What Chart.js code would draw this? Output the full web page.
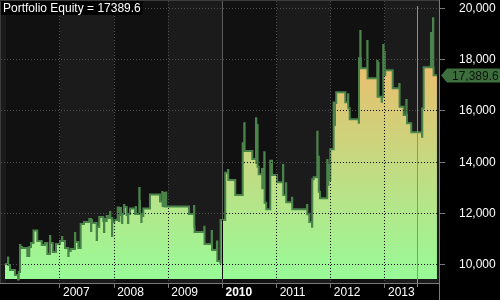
<!DOCTYPE html>
<html>
<head>
<meta charset="utf-8">
<script src="https://cdn.jsdelivr.net/npm/chart.js@4/dist/chart.umd.min.js"></script>
<style>
  html, body { margin: 0; padding: 0; background: #000; }
  #equityChart { display: block; }
</style>
</head>
<body>
<canvas id="equityChart" width="500" height="300"></canvas>
<script>
// equity curve (fractional years / account value)
var equityDates = [
  2005.985, 2006.040, 2006.045, 2006.077, 2006.169, 2006.225, 2006.238, 2006.262, 2006.267, 2006.299,
  2006.396, 2006.433, 2006.465, 2006.511, 2006.581, 2006.662, 2006.723, 2006.766, 2006.815, 2006.821,
  2006.865, 2006.926, 2007.000, 2007.037, 2007.042, 2007.092, 2007.153, 2007.159, 2007.198, 2007.277,
  2007.282, 2007.338, 2007.382, 2007.443, 2007.541, 2007.572, 2007.578, 2007.591, 2007.677, 2007.683,
  2007.725, 2007.799, 2007.812, 2007.818, 2007.831, 2007.862, 2007.892, 2007.923, 2007.929, 2007.960,
  2007.965, 2008.002, 2008.065, 2008.089, 2008.095, 2008.126, 2008.145, 2008.150, 2008.181, 2008.187,
  2008.231, 2008.255, 2008.261, 2008.292, 2008.385, 2008.397, 2008.403, 2008.464, 2008.469, 2008.477,
  2008.501, 2008.506, 2008.538, 2008.661, 2008.846, 2008.888, 2008.894, 2008.925, 2008.931, 2008.957,
  2008.962, 2009.381, 2009.474, 2009.479, 2009.485, 2009.664, 2009.669, 2009.800, 2009.806, 2009.898,
  2009.904, 2009.959, 2009.965, 2010.051, 2010.101, 2010.107, 2010.236, 2010.373, 2010.402, 2010.408,
  2010.550, 2010.618, 2010.624, 2010.642, 2010.648, 2010.668, 2010.729, 2010.734, 2010.771, 2010.777,
  2010.808, 2010.882, 2010.914, 2011.006, 2011.117, 2011.122, 2011.172, 2011.177, 2011.283, 2011.288,
  2011.560, 2011.565, 2011.602, 2011.652, 2011.657, 2011.683, 2011.750, 2011.755, 2011.772, 2011.778,
  2011.800, 2011.934, 2011.940, 2011.957, 2011.962, 2011.990, 2012.052, 2012.058, 2012.077, 2012.100,
  2012.267, 2012.316, 2012.322, 2012.348, 2012.514, 2012.520, 2012.544, 2012.549, 2012.556, 2012.673,
  2012.678, 2012.857, 2012.863, 2012.876, 2012.881, 2012.939, 2012.944, 2012.968, 2012.974, 2012.990,
  2012.996, 2013.005, 2013.142, 2013.263, 2013.269, 2013.345, 2013.393, 2013.399, 2013.406, 2013.485,
  2013.683, 2013.688, 2013.714, 2013.849, 2013.855, 2013.886, 2013.891, 2013.897, 2013.959
];
var equityValues = [
  10040, 10290, 10000, 9805, 9610, 9430, 9730, 10780, 10700, 10660,
  10350, 10700, 10860, 11340, 10935, 10780, 10860, 10430, 11130, 10860,
  10505, 10820, 10935, 11090, 10935, 10660, 10350, 10545, 10620, 11245,
  10895, 10660, 11595, 11675, 11790, 11325, 11755, 11635, 10975, 11480,
  11870, 11715, 11285, 11790, 11715, 11910, 11830, 12065, 11830, 11130,
  11675, 11755, 12240, 11715, 12220, 11950, 11635, 11985, 12340, 12260,
  11950, 11635, 11985, 12200, 11985, 12260, 11985, 13000, 12495, 11985,
  11675, 11910, 12200, 12745, 12475, 12845, 12300, 12805, 12280, 12825,
  12280, 11985, 12300, 11490, 11285, 11490, 10820, 11325, 10585, 10910,
  10155, 10090, 11755, 13595, 13700, 13310, 12725, 14740, 15520, 14440,
  14130, 15715, 13975, 15455, 13830, 13535, 13740, 12990, 14390, 12425,
  12170, 14065, 13505, 13220, 13895, 12725, 13185, 12445, 12620, 12170,
  12340, 11975, 11675, 11490, 13340, 13415, 15195, 13430, 14220, 12855,
  12600, 14090, 13115, 13895, 13310, 14510, 16325, 15455, 16310, 16730,
  16340, 16650, 16105, 15675, 15545, 18055, 19115, 18055, 17665, 18725,
  17275, 17950, 16555, 17870, 16555, 16360, 16555, 18570, 17400, 18300,
  17400, 17585, 16885, 17050, 16165, 15845, 16430, 15845, 15520, 15170,
  15000, 16105, 17700, 19040, 17700, 19610, 17700, 17389.6, 17389.6
];
var yearTicks = [2007, 2008, 2009, 2010, 2011, 2012, 2013];
var equityTicks = [10000, 12000, 14000, 16000, 18000, 20000];
var boldYear = 2010;
var lastEquity = 17389.6;
var cursorDate = 2013.604;
var fillBase = 9455;

var FONT = '"Liberation Sans", Arial, sans-serif';

function crisp(p) { return Math.round(p - 0.5) + 0.5; }

var equityBackdrop = {
  id: 'equityBackdrop',
  beforeDraw: function (chart) {
    var ctx = chart.ctx, area = chart.chartArea, xs = chart.scales.x;
    ctx.save();
    ctx.fillStyle = '#000';
    ctx.fillRect(0, 0, chart.width, chart.height);
    // alternating year bands
    for (var yr = Math.floor(xs.min); yr <= Math.ceil(xs.max); yr++) {
      var x0 = Math.max(area.left, Math.round(xs.getPixelForValue(yr)));
      var x1 = Math.min(area.right, Math.round(xs.getPixelForValue(yr + 1)));
      if (x1 <= x0) continue;
      ctx.fillStyle = yr % 2 === 0 ? '#111111' : '#1b1b1b';
      ctx.fillRect(x0, area.top, x1 - x0, area.bottom - area.top);
    }
    ctx.restore();
  },
  afterDatasetsDraw: function (chart) {
    var ctx = chart.ctx, area = chart.chartArea, xs = chart.scales.x, ys = chart.scales.y;
    var pts = chart.getDatasetMeta(0).data;
    var base = ys.getPixelForValue(fillBase);
    // grid lines turn black where they cross the filled area
    ctx.save();
    ctx.beginPath();
    ctx.moveTo(pts[0].x, base);
    ctx.lineTo(pts[0].x, pts[0].y);
    for (var i = 1; i < pts.length; i++) {
      ctx.lineTo(pts[i].x, pts[i - 1].y);
      ctx.lineTo(pts[i].x, pts[i].y);
    }
    ctx.lineTo(pts[pts.length - 1].x, base);
    ctx.closePath();
    ctx.clip();
    ctx.strokeStyle = '#000';
    ctx.lineWidth = 1;
    yearTicks.forEach(function (yr) {
      var x = crisp(xs.getPixelForValue(yr));
      ctx.setLineDash(yr === boldYear ? [] : [1, 2]);
      ctx.beginPath(); ctx.moveTo(x, area.top); ctx.lineTo(x, area.bottom); ctx.stroke();
    });
    ctx.setLineDash([1, 2]);
    equityTicks.forEach(function (v) {
      var y = crisp(ys.getPixelForValue(v));
      ctx.beginPath(); ctx.moveTo(area.left, y); ctx.lineTo(area.right, y); ctx.stroke();
    });
    ctx.restore();

    // cursor line
    var cx = crisp(xs.getPixelForValue(cursorDate));
    ctx.save();
    ctx.strokeStyle = '#22dd22';
    ctx.lineWidth = 1;
    ctx.beginPath(); ctx.moveTo(cx, area.top + 5); ctx.lineTo(cx, area.bottom + 4); ctx.stroke();
    ctx.restore();
  },
  afterDraw: function (chart) {
    var ctx = chart.ctx, area = chart.chartArea, ys = chart.scales.y;
    ctx.save();
    // frame
    ctx.lineWidth = 1;
    ctx.strokeStyle = '#3c3c3c';
    ctx.beginPath();
    ctx.moveTo(0.5, area.bottom); ctx.lineTo(0.5, 0.5); ctx.lineTo(area.right, 0.5);
    ctx.stroke();
    ctx.strokeStyle = '#7a7a7a';
    ctx.beginPath();
    ctx.moveTo(area.right - 0.5, 0); ctx.lineTo(area.right - 0.5, chart.height);
    ctx.moveTo(0, area.bottom + 0.5); ctx.lineTo(area.right, area.bottom + 0.5);
    ctx.stroke();

    // title
    var title = 'Portfolio Equity = ' + lastEquity;
    ctx.font = '12px ' + FONT;
    var w = ctx.measureText(title).width;
    ctx.fillStyle = '#000';
    ctx.fillRect(area.left, area.top, w + 4, 14);
    ctx.fillStyle = '#ffffff';
    ctx.textBaseline = 'alphabetic';
    ctx.fillText(title, area.left + 2, area.top + 11);

    // last value tag on the axis
    var ty = Math.round(ys.getPixelForValue(lastEquity)) + 0.5;
    var tx = area.right + 1;
    ctx.fillStyle = '#3e6e3e';
    ctx.beginPath();
    ctx.moveTo(tx, ty);
    ctx.lineTo(tx + 6, ty - 7);
    ctx.lineTo(chart.width, ty - 7);
    ctx.lineTo(chart.width, ty + 7);
    ctx.lineTo(tx + 6, ty + 7);
    ctx.closePath();
    ctx.fill();
    ctx.fillStyle = '#081408';
    ctx.textBaseline = 'middle';
    ctx.fillText(lastEquity.toLocaleString('en-US', { minimumFractionDigits: 1 }), tx + 11, ty + 1);
    ctx.restore();
  }
};

var ctx = document.getElementById('equityChart').getContext('2d');
new Chart(ctx, {
  type: 'line',
  data: {
    datasets: [{
      label: 'Portfolio Equity',
      data: equityDates.map(function (d, i) { return { x: d, y: equityValues[i] }; }),
      stepped: true,
      borderColor: '#4b844b',
      borderWidth: 2,
      pointRadius: 0,
      fill: { value: fillBase },
      backgroundColor: function (c) {
        var chart = c.chart, ys = chart.scales.y;
        if (!chart.chartArea || !ys) return '#98fb98';
        var g = chart.ctx.createLinearGradient(0, ys.getPixelForValue(fillBase), 0, ys.getPixelForValue(18000));
        g.addColorStop(0, '#98fb98');
        g.addColorStop(1, '#ecbc6c');
        return g;
      }
    }]
  },
  options: {
    responsive: false,
    animation: false,
    devicePixelRatio: 1,
    layout: { padding: { left: 1, top: 1, right: 0, bottom: 0 } },
    plugins: { legend: { display: false }, tooltip: { enabled: false }, title: { display: false } },
    scales: {
      x: {
        type: 'linear',
        min: 2005.9108,
        max: 2014.0154,
        afterBuildTicks: function (s) { s.ticks = yearTicks.map(function (v) { return { value: v }; }); },
        afterFit: function (s) {
          s.height = 17;
          s.paddingLeft = 0; s.paddingRight = 0;
        },
        ticks: {
          color: '#ffffff',
          align: 'start',
          labelOffset: 3,
          padding: -3,
          maxRotation: 0,
          autoSkip: false,
          font: function (c) {
            return { family: FONT, size: 12, weight: c.tick && c.tick.value === boldYear ? 'bold' : 'normal' };
          },
          callback: function (v) { return String(v); }
        },
        grid: {
          color: function (c) { return c.tick && c.tick.value === boldYear ? '#5c5c5c' : '#4e4e4e'; },
          tickColor: '#7a7a7a',
          tickLength: 5,
          lineWidth: 1
        },
        border: {
          display: false,
          dash: function (c) { return c.tick && c.tick.value === boldYear ? [] : [1, 2]; }
        }
      },
      y: {
        type: 'linear',
        position: 'right',
        min: 9298,
        max: 20284,
        afterBuildTicks: function (s) { s.ticks = equityTicks.map(function (v) { return { value: v }; }); },
        afterFit: function (s) {
          s.width = 60;
          s.paddingTop = 0; s.paddingBottom = 0;
        },
        ticks: {
          color: '#ffffff',
          padding: 14,
          font: { family: FONT, size: 12 },
          callback: function (v) { return Number(v).toLocaleString('en-US'); }
        },
        grid: { color: '#4e4e4e', tickColor: '#7a7a7a', tickLength: 5, lineWidth: 1 },
        border: { display: false, dash: [1, 2] }
      }
    }
  },
  plugins: [equityBackdrop]
});
</script>
</body>
</html>
